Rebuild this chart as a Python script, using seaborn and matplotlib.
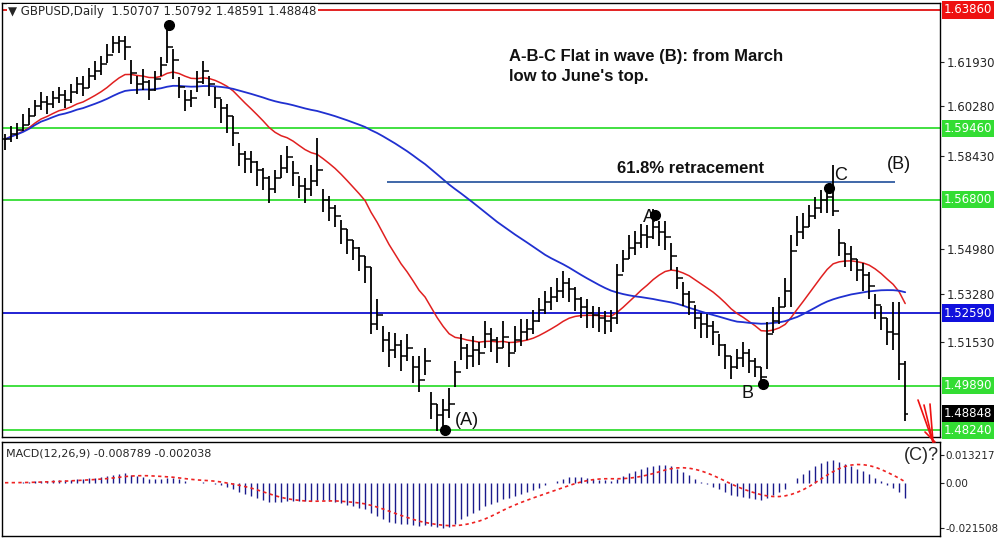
import numpy as np
import pandas as pd
import matplotlib
matplotlib.use("Agg")
import matplotlib.pyplot as plt
import seaborn as sns

# -------------------- data --------------------
closes = [
    1.5905, 1.5925, 1.5940, 1.5960, 1.5990, 1.6030, 1.6045, 1.6035, 1.6060, 1.6070,
    1.6050, 1.6080, 1.6110, 1.6095, 1.6140, 1.6160, 1.6185, 1.6220, 1.6265, 1.6270,
    1.6250, 1.6150, 1.6110, 1.6120, 1.6090, 1.6130, 1.6180, 1.6250, 1.6200, 1.6100,
    1.6050, 1.6060, 1.6120, 1.6160, 1.6110, 1.6060, 1.6020, 1.5990, 1.5930, 1.5850,
    1.5830, 1.5820, 1.5790, 1.5760, 1.5720, 1.5760, 1.5800, 1.5840, 1.5780, 1.5730,
    1.5720, 1.5750, 1.5790, 1.5680, 1.5650, 1.5620, 1.5570, 1.5530, 1.5500, 1.5470,
    1.5430, 1.5220, 1.5250, 1.5160, 1.5120, 1.5140, 1.5100, 1.5130, 1.5060, 1.5010,
    1.5080, 1.4920, 1.4880, 1.4900, 1.4920, 1.5040, 1.5130, 1.5100, 1.5120, 1.5110,
    1.5180, 1.5160, 1.5130, 1.5170, 1.5110, 1.5160, 1.5190, 1.5200, 1.5230, 1.5270,
    1.5300, 1.5320, 1.5340, 1.5370, 1.5350, 1.5310, 1.5280, 1.5260, 1.5250, 1.5240,
    1.5230, 1.5240, 1.5400, 1.5460, 1.5500, 1.5520, 1.5550, 1.5540, 1.5580, 1.5560,
    1.5540, 1.5470, 1.5390, 1.5330, 1.5300, 1.5240, 1.5220, 1.5210, 1.5190, 1.5140,
    1.5100, 1.5060, 1.5090, 1.5110, 1.5080, 1.5060, 1.5020, 1.5180, 1.5230, 1.5280,
    1.5340, 1.5490, 1.5560, 1.5580, 1.5620, 1.5650, 1.5680, 1.5690, 1.5640, 1.5520,
    1.5480, 1.5460, 1.5420, 1.5400, 1.5360, 1.5290, 1.5240, 1.5190, 1.5180, 1.5071,
    1.4885,
]
# bar extent above / below the close, in pips
up_pips = [
    20, 30, 25, 40, 30, 20, 35, 30, 25, 30,
    40, 30, 25, 45, 30, 35, 30, 40, 25, 20,
    40, 50, 30, 45, 35, 30, 30, 80, 40, 35,
    40, 30, 40, 35, 30, 40, 35, 45, 60, 40,
    30, 40, 35, 40, 50, 30, 45, 40, 45, 40,
    40, 60, 120, 40, 45, 40, 35, 40, 30, 35,
    40, 210, 60, 50, 70, 45, 60, 50, 40, 90,
    50, 45, 40, 40, 60, 40, 50, 45, 55, 40,
    50, 45, 40, 60, 40, 50, 45, 35, 40, 45,
    40, 35, 50, 45, 40, 45, 40, 50, 35, 40,
    35, 30, 40, 35, 50, 45, 40, 45, 65, 40,
    60, 50, 40, 45, 40, 50, 40, 45, 40, 40,
    45, 40, 35, 40, 45, 30, 40, 45, 50, 40,
    50, 60, 60, 50, 40, 40, 35, 35, 170, 50,
    40, 50, 40, 45, 50, 40, 45, 50, 120, 230,
    194,
]
down_pips = [
    40, 30, 35, 25, 30, 40, 30, 35, 40, 30,
    30, 40, 35, 30, 45, 35, 40, 30, 40, 45,
    50, 40, 35, 30, 40, 45, 40, 60, 70, 40,
    40, 35, 40, 50, 45, 40, 55, 60, 50, 45,
    50, 40, 60, 45, 50, 55, 40, 60, 50, 45,
    50, 55, 60, 45, 50, 40, 55, 50, 45, 55,
    60, 40, 55, 45, 60, 50, 55, 50, 60, 45,
    50, 56, 60, 96, 50, 55, 45, 50, 60, 45,
    50, 45, 55, 40, 50, 45, 55, 40, 50, 45,
    45, 50, 40, 55, 50, 45, 40, 55, 45, 50,
    50, 50, 180, 50, 40, 45, 50, 40, 45, 50,
    45, 50, 40, 45, 50, 40, 55, 45, 50, 40,
    50, 45, 40, 50, 45, 40, 25, 130, 45, 60,
    60, 210, 50, 45, 40, 40, 50, 60, 20, 50,
    50, 45, 40, 60, 50, 55, 45, 50, 60, 60,
    26,
]

green_levels = [1.5946, 1.5680, 1.4989, 1.4824]
blue_level = 1.5259
red_level = 1.6386
retrace_level = 1.5746
plain_ticks = [1.61930, 1.60280, 1.58430, 1.54980, 1.53280, 1.51530]
last_price = 1.48848

# -------------------- build frame --------------------
df = pd.DataFrame({"close": closes})
df["i"] = np.arange(len(df))
df["high"] = df["close"] + np.array(up_pips) / 10000
df["low"] = df["close"] - np.array(down_pips) / 10000
df["open"] = df["close"].shift(1).fillna(df["close"].iloc[0])
df["ma_fast"] = df["close"].ewm(span=20).mean()
df["ma_slow"] = df["close"].rolling(62, min_periods=1).mean()
macd = df["close"].ewm(span=12).mean() - df["close"].ewm(span=26).mean()
df["macd"] = macd
df["signal"] = macd.rolling(9, min_periods=1).mean()

sns.set_style("white")
plt.rcParams["font.family"] = ["DejaVu Sans"]

fig = plt.figure(figsize=(10.01, 5.38), dpi=100)
W, H = 1001, 538
ax = fig.add_axes([2 / W, 1 - 437 / H, 938 / W, 434 / H])
axm = fig.add_axes([2 / W, 1 - 536 / H, 938 / W, 94 / H])

xlim = (-0.5, 155.8)

# -------------------- price panel --------------------
for lv in green_levels:
    ax.axhline(lv, color="#33dd33", lw=1.3, zorder=1)
ax.axhline(blue_level, color="#1010d0", lw=1.3, zorder=1)
ax.axhline(red_level, color="#e01010", lw=1.3, zorder=1)

ax.vlines(df["i"], df["low"], df["high"], color="black", lw=1.3, zorder=3)
ax.hlines(df["open"], df["i"] - 0.45, df["i"], color="black", lw=1.1, zorder=3)
ax.hlines(df["close"], df["i"], df["i"] + 0.45, color="black", lw=1.1, zorder=3)

sns.lineplot(data=df, x="i", y="ma_fast", ax=ax, color="#e02020", lw=1.1, zorder=2)
sns.lineplot(data=df, x="i", y="ma_slow", ax=ax, color="#2030d0", lw=1.3, zorder=2)

ax.hlines(retrace_level, 63.7, 148.3, color="#1f4e9a", lw=1.2, zorder=2)

dots = [(27, 1.6330), (73, 1.4824), (108, 1.5625), (126, 1.4995), (137, 1.5725)]
for xi, yv in dots:
    ax.plot(xi + 0.3, yv, "o", color="black", ms=7, zorder=4)

bold = dict(fontsize=12, fontweight="bold", family="Liberation Sans", color="#111111")
ax.text(84, 1.6240, "A-B-C Flat in wave (B): from March\nlow to June's top.",
        va="top", ha="left", linespacing=1.4, **bold)
ax.text(102, 1.5770, "61.8% retracement", ha="left", va="bottom", **bold)
big = dict(fontsize=13, family="Liberation Sans", color="#111111")
ax.text(77, 1.4860, "(A)", ha="center", va="center", **big)
ax.text(107.3, 1.5614, "A", ha="center", va="center", **big)
ax.text(123.7, 1.4960, "B", ha="center", va="center", **big)
ax.text(139.3, 1.5770, "C", ha="center", va="center", **big)
ax.text(149, 1.5810, "(B)", ha="center", va="center", **big)

ax.text(0.5, 1.6380, "\u25bc GBPUSD,Daily  1.50707 1.50792 1.48591 1.48848",
        fontsize=8.5, ha="left", va="center", zorder=5,
        bbox=dict(facecolor="white", edgecolor="none", pad=1))

ax.set_xlim(*xlim)
ax.set_ylim(1.4798, 1.6412)
ax.set_xticks([])
ax.yaxis.tick_right()
ax.set_yticks(plain_ticks)
ax.set_yticklabels([f"{t:.5f}" for t in plain_ticks], fontsize=8.5)
ax.tick_params(axis="y", length=3, pad=2)
ax.set_xlabel("")
ax.set_ylabel("")
for s in ax.spines.values():
    s.set_color("black")
    s.set_linewidth(1)

def price_box(val, bg, fg="white"):
    ax.text(1.004, val, f"{val:.5f}", transform=ax.get_yaxis_transform(),
            ha="left", va="center", fontsize=8.5, color=fg,
            bbox=dict(facecolor=bg, edgecolor="none", pad=1.5))

price_box(red_level, "#ee1111")
for lv in green_levels:
    price_box(lv, "#33dd33")
price_box(blue_level, "#1010dd")
price_box(last_price, "black")

# -------------------- MACD panel --------------------
axm.vlines(df["i"], 0, df["macd"], color="#1a1a8c", lw=1.0)
sns.lineplot(data=df, x="i", y="signal", ax=axm, color="#ee2222", lw=1.2,
             linestyle=(0, (2, 2)))
axm.set_xlim(*xlim)
axm.set_ylim(-0.0255, 0.0195)
axm.set_xticks([])
axm.yaxis.tick_right()
axm.set_yticks([0.013217, 0.0, -0.021508])
axm.set_yticklabels(["0.013217", "0.00", "-0.021508"], fontsize=7.5)
axm.tick_params(axis="y", length=3, pad=1)
axm.set_xlabel("")
axm.set_ylabel("")
axm.text(0.004, 0.88, "MACD(12,26,9) -0.008789 -0.002038", transform=axm.transAxes,
         fontsize=8, ha="left", va="center")
for s in axm.spines.values():
    s.set_color("black")
    s.set_linewidth(1)

fig.text(921 / W, 1 - 456 / H, "(C)?", fontsize=13, family="Liberation Sans",
         ha="center", va="center")
# red arrow pointing to (C)
for x0, y0 in [(918, 400), (924, 405), (930, 404)]:
    fig.add_artist(plt.Line2D([x0 / W, 933 / W], [1 - y0 / H, 1 - 442 / H],
                              color="#ee1111", lw=1.2))
fig.add_artist(plt.Line2D([925 / W, 935 / W], [1 - 432 / H, 1 - 442 / H],
                          color="#ee1111", lw=1.2))

fig.savefig("out.png", dpi=100, facecolor="white")
